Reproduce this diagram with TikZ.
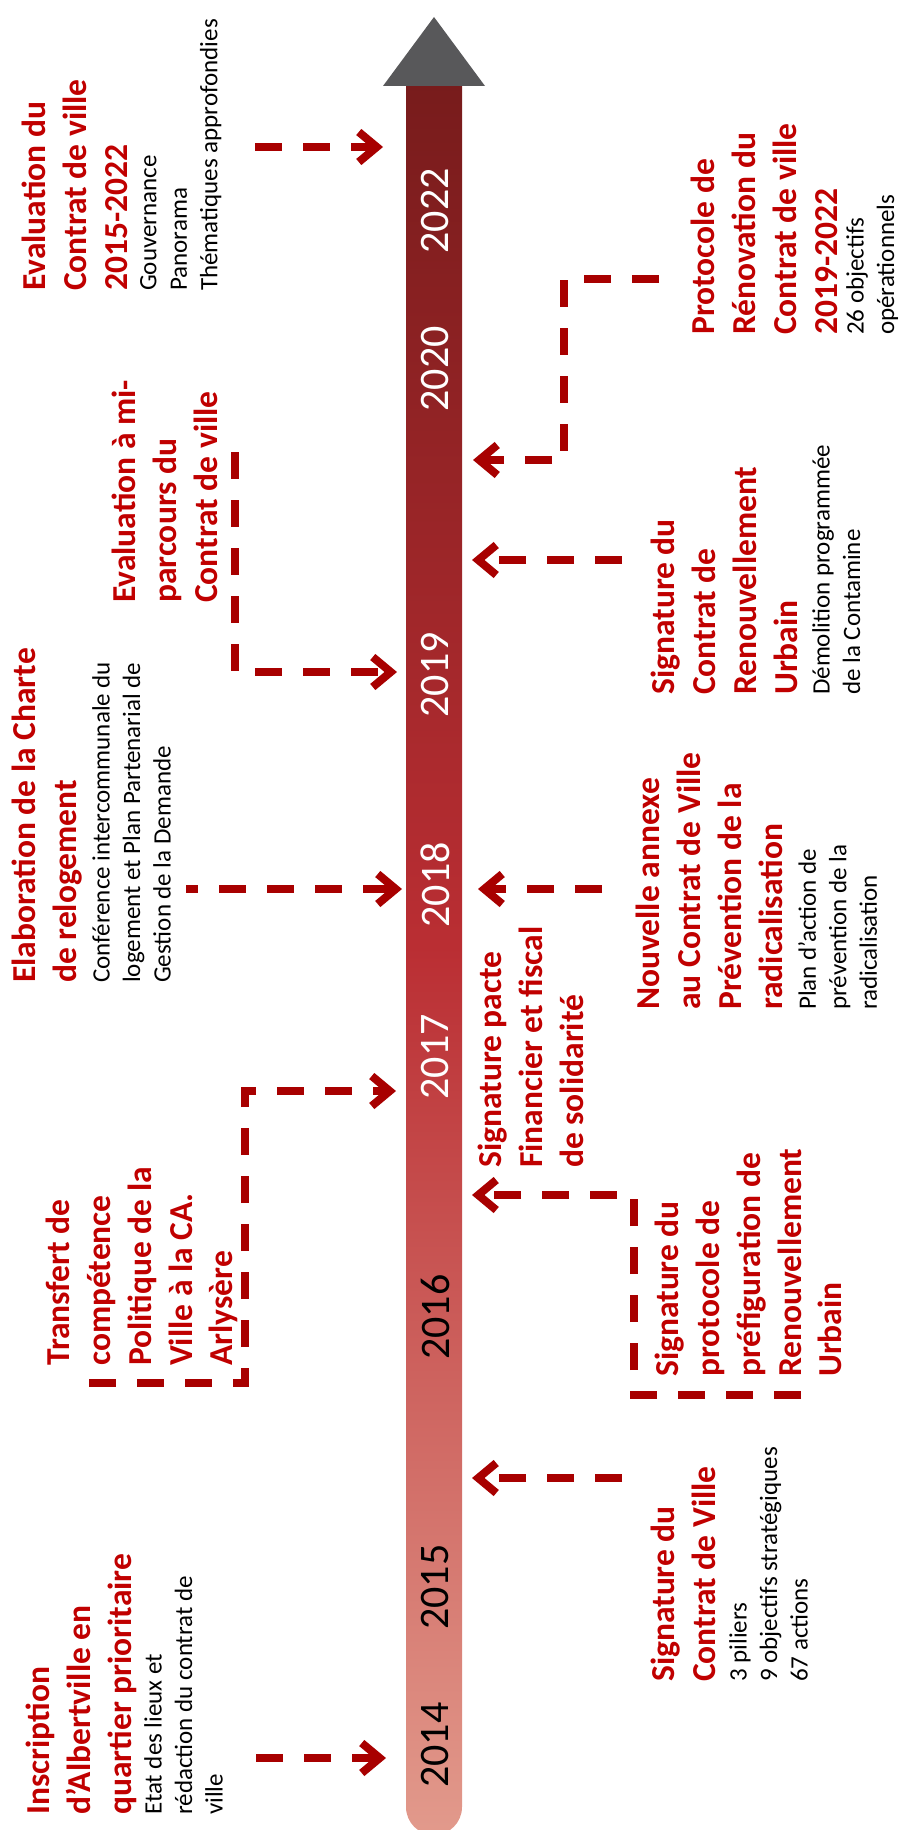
\documentclass[tikz,border=0pt]{standalone}
\usepackage{fontspec}
\setmainfont{Carlito}
\usepackage{tikz}
\usetikzlibrary{arrows.meta}
\definecolor{evred}{HTML}{C00000}
\definecolor{lnred}{HTML}{A80000}
\definecolor{bartop}{HTML}{761B1B}
\definecolor{barmid}{HTML}{BA2E33}
\definecolor{barbot}{HTML}{E29A8C}
\definecolor{tipgray}{HTML}{58585A}
\tikzset{>={Straight Barb[length=18pt,width=30pt]}}

\begin{document}
\begin{tikzpicture}[x=1pt, y=-1pt,
    head/.style={rotate=90, anchor=north west, align=left, inner sep=0pt, text=evred, font=\fontsize{33.5}{40.8}\selectfont\bfseries},
    txt/.style={rotate=90, anchor=north west, align=left, inner sep=0pt, font=\fontsize{25}{30.5}\selectfont},
    yearlab/.style={rotate=90, inner sep=0pt, font=\fontsize{42}{50}\selectfont},
    dashlink/.style={->, draw=lnred, line width=8pt, dash pattern=on 27pt off 21pt}]
      \useasboundingbox (0, 0) rectangle (903, 1830);

      \shade[top color=bartop, bottom color=barbot, middle color=barmid, rounded corners=28pt] (406, 58) rectangle (462, 1835);
      \fill[tipgray] (383, 86) -- (434, 17) -- (485, 86) -- cycle;

      \foreach \yr/\py/\col in {2014/1745/black, 2015/1587/black, 2016/1317/black, 2017/1057/white,
                                2018/885/white, 2019/675/white, 2020/369/white, 2022/211/white} {
        \node[yearlab, text=\col](y\yr) at (435, \py) {\yr};
      }

      \node[head](evalh) at (22, 291) {Evaluation du\\Contrat de ville\\2015-2022};
      \node[txt](evalt) at (140, 291) {Gouvernance\\Panorama\\Thématiques approfondies};

      \node[head](mih) at (112, 603) {Evaluation à mi-\\parcours du\\Contrat de ville};

      \node[head](charteh) at (12, 983) {Elaboration de la Charte\\de relogement};
      \node[txt](chartet) at (92, 983) {Conférence intercommunale du\\logement et Plan Partenarial de\\Gestion de la Demande};

      \node[head](transh) at (46, 1366) {Transfert de\\compétence\\Politique de la\\Ville à la CA.\\Arlysère};

      \node[head](inscrh) at (26, 1815) {Inscription\\d’Albertville en\\quartier prioritaire};
      \node[txt](inscrt) at (144, 1815) {Etat des lieux et\\rédaction du contrat de\\ville};

      \node[head](protoh) at (691, 335) {Protocole de\\Rénovation du\\Contrat de ville\\2019-2022};
      \node[txt](protot) at (846, 335) {26 objectifs\\opérationnels};

      \node[head](cruh) at (651, 695) {Signature du\\Contrat de\\Renouvellement\\Urbain};
      \node[txt](crut) at (812, 695) {Démolition programmée\\de la Contamine};

      \node[head](annexeh) at (636, 1010) {Nouvelle annexe\\au Contrat de Ville\\Prévention de la\\radicalisation};
      \node[txt](annexet) at (798, 1010) {Plan d’action de\\prévention de la\\radicalisation};

      \node[head](pacteh) at (478, 1168) {Signature pacte\\Financier et fiscal\\de solidarité};

      \node[head](prefh) at (655, 1377) {Signature du\\protocole de\\préfiguration de\\Renouvellement\\Urbain};

      \node[head](cvh) at (651, 1682) {Signature du\\Contrat de Ville};
      \node[txt](cvt) at (729, 1682) {3 piliers\\9 objectifs stratégiques\\67 actions};

      \coordinate (evals) at (255, 147);
      \coordinate (evale) at (383, 147);
      \coordinate (protos) at (659, 279);
      \coordinate (protok) at (564, 460);
      \coordinate (protoe) at (473, 460);
      \coordinate (crus) at (622, 560);
      \coordinate (crue) at (472, 560);
      \coordinate (mis) at (235, 452);
      \coordinate (mie) at (397, 672);
      \coordinate (chartes) at (186, 889);
      \coordinate (chartee) at (402, 889);
      \coordinate (annexes) at (602, 889);
      \coordinate (annexee) at (478, 889);
      \coordinate (transs) at (89, 1383);
      \coordinate (transk) at (245, 1091);
      \coordinate (transe) at (396, 1091);
      \coordinate (prefs) at (801, 1395);
      \coordinate (prefk) at (634, 1195);
      \coordinate (prefe) at (472, 1195);
      \coordinate (cvs) at (622, 1478);
      \coordinate (cve) at (472, 1478);
      \coordinate (inscrs) at (256, 1758);
      \coordinate (inscre) at (386, 1758);

      \draw[dashlink] (evals) -- (evale);
      \draw[dashlink] (protos) -| (protok) -- (protoe);
      \draw[dashlink] (crus) -- (crue);
      \draw[dashlink] (mis) |- (mie);
      \draw[dashlink, dash phase=15pt] (chartes) -- (chartee);
      \draw[dashlink] (annexes) -- (annexee);
      \draw[dashlink] (transs) -| (transk) -- (transe);
      \draw[dashlink] (prefs) -| (prefk) -- (prefe);
      \draw[dashlink] (cvs) -- (cve);
      \draw[dashlink] (inscrs) -- (inscre);
    \end{tikzpicture}
\end{document}
